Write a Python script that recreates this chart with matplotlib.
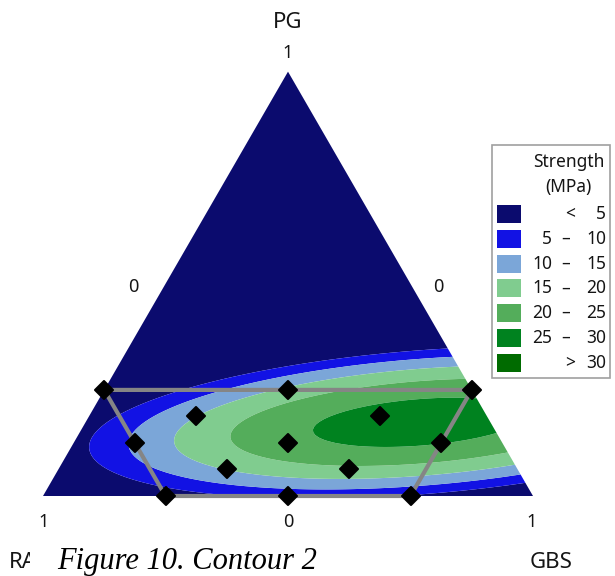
"""Ternary contour of mixture strength (PG / RAP / GBS) with design points."""

import numpy as np
import matplotlib
matplotlib.use("Agg")
import matplotlib.pyplot as plt
import matplotlib.tri as mtri
from matplotlib.markers import MarkerStyle
from matplotlib.patches import Rectangle

# design points (component fractions)
PG = [0.25, 0.25, 0.25, 0.1875, 0.1875, 0.125, 0.125, 0.125,
      0.0625, 0.0625, 0.0, 0.0, 0.0]
RAP = [0.75, 0.375, 0.0, 0.59375, 0.21875, 0.75, 0.4375, 0.125,
       0.59375, 0.34375, 0.75, 0.5, 0.25]
GBS = [0.0, 0.375, 0.75, 0.21875, 0.59375, 0.125, 0.4375, 0.75,
       0.34375, 0.59375, 0.25, 0.5, 0.75]

# constraint region outline (PG, GBS; RAP is the rest)
REGION_PG = [0.25, 0.25, 0.125, 0.0, 0.0, 0.125, 0.25]
REGION_GBS = [0.0, 0.75, 0.75, 0.75, 0.25, 0.125, 0.0]

# fitted Scheffe quadratic model: PG, RAP, GBS, PG*RAP, PG*GBS, RAP*GBS
MODEL_TERMS = ["PG", "RAP", "GBS", "PG*RAP", "PG*GBS", "RAP*GBS"]
MODEL_COEF = [-535.6, -10.6, -4.24, 722.0, 855.3, 54.7]

LEVELS = [5, 10, 15, 20, 25, 30]
LEVEL_LABELS = [("<", "5"), ("5", "10"), ("10", "15"), ("15", "20"),
                ("20", "25"), ("25", "30"), (">", "30")]
COLORS = ["#0b0b6e", "#1212e4", "#7ba6d8", "#80cc8f",
          "#54ad5b", "#00821f", "#006b00"]

W, H = 615, 576
FONT = ["Noto Sans", "DejaVu Sans"]


def to_xy(pg, gbs):
    pg = np.asarray(pg, dtype=float)
    gbs = np.asarray(gbs, dtype=float)
    return gbs + pg / 2.0, pg * np.sqrt(3) / 2.0


def strength(pg, rap, gbs):
    b = MODEL_COEF
    return (b[0] * pg + b[1] * rap + b[2] * gbs
            + b[3] * pg * rap + b[4] * pg * gbs + b[5] * rap * gbs)


def fpos(px, py):
    return px / W, 1 - py / H


def label(px, py, s, size=12.5, **kw):
    kw.setdefault("ha", "center")
    fig.text(*fpos(px, py), s, va="center", fontsize=size, family=FONT,
             color="#151515", **kw)


fig = plt.figure(figsize=(W / 100, H / 100), dpi=100, facecolor="white")
ax = fig.add_axes([0, 0, 1, 1])
# 490 px per unit side, bottom-left vertex at pixel (43, 496)
ax.set_xlim(-43 / 490, (W - 43) / 490)
ax.set_ylim(-(H - 496) / 490, 496 / 490)
ax.axis("off")

# triangular grid over the simplex
n = 160
pts = [(i / n, j / n) for i in range(n + 1) for j in range(n + 1 - i)]
g_pg = np.array([p[0] for p in pts])
g_gbs = np.array([p[1] for p in pts])
g_rap = 1 - g_pg - g_gbs
gx, gy = to_xy(g_pg, g_gbs)
tri = mtri.Triangulation(gx, gy)
z = strength(g_pg, g_rap, g_gbs)
ax.tricontourf(tri, z, levels=[-1e4] + LEVELS + [1e4], colors=COLORS,
               antialiased=True)

# design region and points
rx, ry = to_xy(REGION_PG, REGION_GBS)
ax.plot(rx, ry, color="#858585", lw=3, solid_capstyle="round", zorder=3)
px_, py_ = to_xy(PG, GBS)
ax.plot(px_, py_, linestyle="none",
        marker=MarkerStyle("D", joinstyle="round"),
        color="black", ms=9, mec="black", mew=1.5, zorder=4)

# axis labels
label(288, 22, "PG", size=16)
label(288, 53, "1", size=13)
label(133, 287, "0", size=13)
label(438, 287, "0", size=13)
label(44, 522, "1", size=13)
label(288, 522, "0", size=13)
label(532, 522, "1", size=13)
label(9, 563, "RAP", size=16, ha="left")
label(551, 563, "GBS", size=16)

# legend box
fig.patches.append(Rectangle(fpos(492, 378), 118 / W, (378 - 145) / H,
                             transform=fig.transFigure, facecolor="white",
                             edgecolor="#a0a0a0", lw=1.2, zorder=5))
label(569, 162, "Strength", zorder=6)
label(568, 187, "(MPa)", zorder=6)
for k, (lo, hi) in enumerate(LEVEL_LABELS):
    yc = 214 + 24.8 * k
    fig.patches.append(Rectangle(fpos(497, yc + 9), 24 / W, 18 / H,
                                 transform=fig.transFigure,
                                 facecolor=COLORS[k], edgecolor="none",
                                 zorder=6))
    label(606, yc, hi, ha="right", zorder=7)
    if lo in ("<", ">"):
        label(575, yc, lo, ha="right", zorder=7)
    else:
        label(566, yc, "\u2013", zorder=7)
        label(552, yc, lo, ha="right", zorder=7)

# caption strip at the bottom of the page
fig.patches.append(Rectangle(fpos(30, H), 490 / W, (H - 552) / H,
                             transform=fig.transFigure, facecolor="white",
                             edgecolor="none", zorder=8))
fig.text(*fpos(57, 569), "Figure 10. Contour 2",
         ha="left", va="baseline", fontsize=22, style="italic",
         family="Liberation Serif", zorder=9)

fig.savefig("out.png", dpi=100, facecolor="white")
